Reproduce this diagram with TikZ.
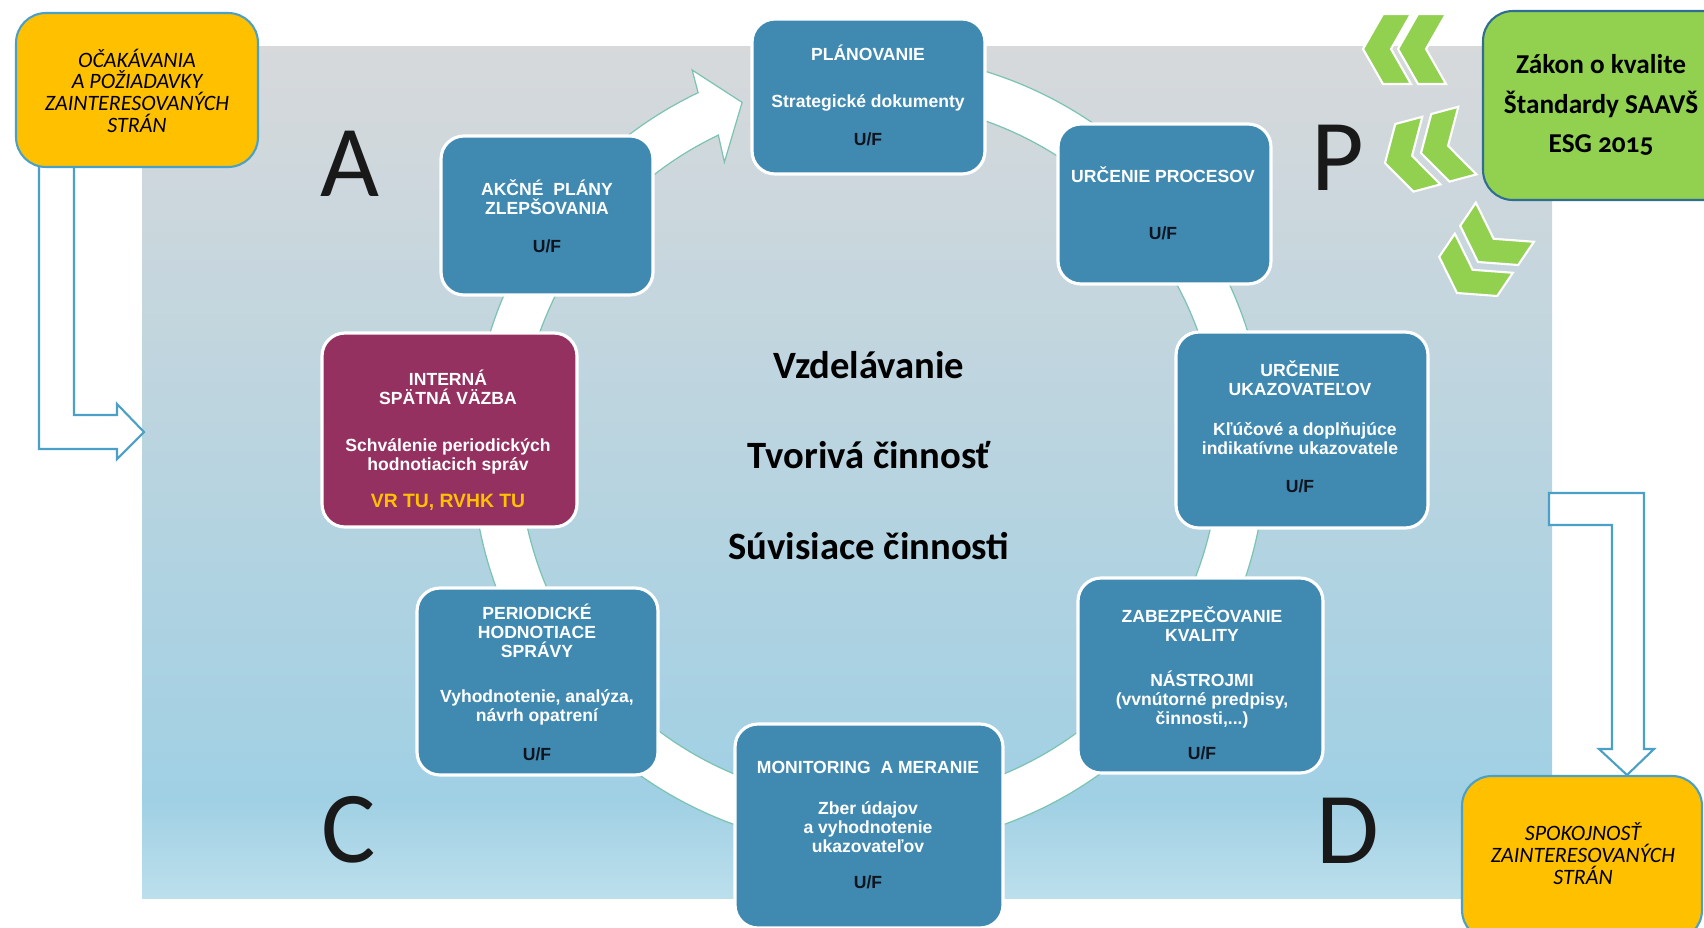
\documentclass[tikz,border=0pt]{standalone}
\usepackage{fontspec}
\setmainfont{Liberation Sans}
\newfontfamily\calib{Carlito}
\newfontfamily\calibos{Carlito}[Numbers=OldStyle]
\usetikzlibrary{calc}
\definecolor{boxblue}{RGB}{64,138,177}
\definecolor{maroon}{RGB}{149,49,96}
\definecolor{orangey}{RGB}{255,192,0}
\definecolor{outlineblue}{RGB}{75,160,200}
\definecolor{chevgreen}{RGB}{146,208,80}
\definecolor{greenborder}{RGB}{48,110,145}
\definecolor{ringedge}{RGB}{125,195,178}
\definecolor{uftext}{RGB}{15,20,30}
\definecolor{bgtop}{RGB}{215,217,219}
\definecolor{bgmid}{RGB}{160,208,228}
\definecolor{bgbot}{RGB}{188,223,236}
\definecolor{vrtu}{RGB}{255,192,0}
\newcommand\grchev[3]{\draw[chevron, shift={(#1,-#2)}, rotate=#3] (0,0) -- (20,35) -- (48,35) -- (28,0) -- (48,-35) -- (20,-35) -- cycle;}
\newcommand\uf{{\color{uftext}U/F}}
\begin{document}
\begin{tikzpicture}[x=0.02cm,y=0.02cm,
  bluebox/.style={draw=white, line width=1.8pt, fill=boxblue, rounded corners=13pt, inner sep=0pt},
  redbox/.style={bluebox, fill=maroon},
  boxtext/.style={text=white, font=\bfseries\fontsize{10}{10.8}\selectfont, align=center, inner sep=0pt},
  outerbox/.style={draw=outlineblue, line width=1.2pt, fill=orangey, rounded corners=17pt, inner sep=0pt},
  greenbox/.style={draw=greenborder, line width=1.2pt, fill=chevgreen, rounded corners=17pt, inner sep=0pt},
  sidetext/.style={font=\calib\itshape\fontsize{12.5}{12.3}\selectfont, align=center, inner sep=0pt, text=black},
  blockarrow/.style={draw=outlineblue, line width=1.2pt, fill=white, line join=miter},
  ringstyle/.style={draw=ringedge, line width=0.7pt, fill=white},
  chevron/.style={fill=chevgreen, draw=white, line width=1.2pt, line join=miter},
  bigletter/.style={font=\calib\fontsize{58}{60}\selectfont, text=black!90, anchor=base, inner sep=0pt},
  centertext/.style={font=\calib\bfseries\fontsize{22}{24}\selectfont, text=black, anchor=base, inner sep=0pt}
]
\useasboundingbox (0,0) rectangle (1704,-927);
% background panel
\shade[top color=bgtop, bottom color=bgmid] (142,-46) rectangle (1552,-800);
\shade[top color=bgmid, bottom color=bgbot] (142,-799.5) rectangle (1552,-898);
% ring arrow
\begin{scope}[shift={(869,-451)}]
\draw[ringstyle] (95:397) arc[start angle=95, end angle=-244.5, radius=397]
  -- (-245.1:420) -- (-250:371) -- (-243.4:323) -- (-244.5:350)
  arc[start angle=-244.5, end angle=95, radius=350] -- cycle;
\end{scope}
% boxes of the cycle
\node[bluebox, minimum width=4.66cm, minimum height=3.10cm] (plan) at (868.5,-96.5) {};
\node[boxtext] (plant) at (868,-95.5) {PLÁNOVANIE\\[15.8pt]Strategické dokumenty\\[10.7pt]\uf};
\node[bluebox, minimum width=4.26cm, minimum height=3.20cm] (proc) at (1164.5,-204) {};
\node[boxtext] (proct) at (1163,-203.5) {URČENIE PROCESOV\\[21.5pt]\uf};
\node[bluebox, minimum width=5.04cm, minimum height=3.92cm] (ukaz) at (1302,-430) {};
\node[boxtext] (ukazt) at (1300,-426.5) {URČENIE\\UKAZOVATEĽOV\\[11.9pt]\ \ Kľúčové a doplňujúce\\indikatívne ukazovatele\\[10.7pt]\uf};
\node[bluebox, minimum width=4.90cm, minimum height=3.90cm] (zabez) at (1200.5,-675.5) {};
\node[boxtext] (zabezt) at (1202,-683.5) {ZABEZPEČOVANIE\\KVALITY\\[14.7pt]NÁSTROJMI\\(vvnútorné predpisy,\\činnosti,...)\\[9pt]\uf};
\node[bluebox, minimum width=5.36cm, minimum height=4.08cm] (monit) at (869,-826) {};
\node[boxtext] (monitt) at (868,-825) {MONITORING\ \ A MERANIE\\[12.4pt]Zber údajov\\a vyhodnotenie\\ukazovateľov\\[9.6pt]\uf};
\node[bluebox, minimum width=4.82cm, minimum height=3.74cm] (period) at (537.5,-681.5) {};
\node[boxtext] (periodt) at (537,-682.5) {PERIODICKÉ\\HODNOTIACE\\SPRÁVY\\[14.7pt]Vyhodnotenie, analýza,\\návrh opatrení\\[11.9pt]\uf};
\node[redbox, minimum width=5.10cm, minimum height=3.88cm] (intern) at (449.5,-430) {};
\node[boxtext] (internt) at (448,-440) {INTERNÁ\\SPÄTNÁ VÄZBA\\[15.8pt]Schválenie periodických\\hodnotiacich správ\\[10.2pt]{\fontsize{11}{11}\selectfont\color{vrtu}VR TU, RVHK TU}};
\node[bluebox, minimum width=4.24cm, minimum height=3.18cm] (akcne) at (547,-215.5) {};
\node[boxtext] (akcnet) at (547,-216) {AKČNÉ\ \ PLÁNY\\ZLEPŠOVANIA\\[10.7pt]\uf};
% centre text
\node[centertext] (vzdel) at (869,-378) {Vzdelávanie};
\node[centertext] (tvor) at (869,-468) {Tvorivá činnosť};
\node[centertext] (suvis) at (869,-559) {Súvisiace činnosti};
% letters
\node[bigletter] (la) at (350,-196) {A};
\node[bigletter] (lp) at (1338,-190) {P};
\node[bigletter] (lc) at (349,-862) {C};
\node[bigletter] (ld) at (1348,-863) {D};
% left block arrow and box
\draw[blockarrow] (39,-150) -- (39,-449) -- (117,-449) -- (117,-459) -- (144,-432) -- (117,-404) -- (117,-415) -- (74,-415) -- (74,-150);
\node[outerbox, minimum width=4.84cm, minimum height=3.08cm] (ocak) at (137,-90) {};
\node[sidetext] (ocakt) at (137,-90.5) {OČAKÁVANIA\\A POŽIADAVKY\\ZAINTERESOVANÝCH\\STRÁN};
% right block arrow and box
\draw[blockarrow] (1549,-493) -- (1644,-493) -- (1644,-749) -- (1654,-749) -- (1627,-775) -- (1599,-749) -- (1612,-749) -- (1612,-525) -- (1549,-525) -- cycle;
\node[outerbox, minimum width=4.80cm, minimum height=3.28cm] (spok) at (1582,-858) {};
\node[sidetext] (spokt) at (1583,-853.5) {SPOKOJNOSŤ\\ZAINTERESOVANÝCH\\STRÁN};
% green box
\node[greenbox, minimum width=5.14cm, minimum height=3.78cm] (zakon) at (1611.5,-105.5) {};
\node[font=\calibos\bfseries\fontsize{15.5}{22.7}\selectfont, align=center, inner sep=0pt] (zakont) at (1601,-105) {Zákon o kvalite\\Štandardy SAAVŠ\\ESG 2015};
% chevrons
\grchev{1363}{49}{0}
\grchev{1398}{49}{0}
\grchev{1385}{163}{15}
\grchev{1421}{153}{15}
\grchev{1457}{293}{56}
\grchev{1478}{262}{56}
\end{tikzpicture}
\end{document}
